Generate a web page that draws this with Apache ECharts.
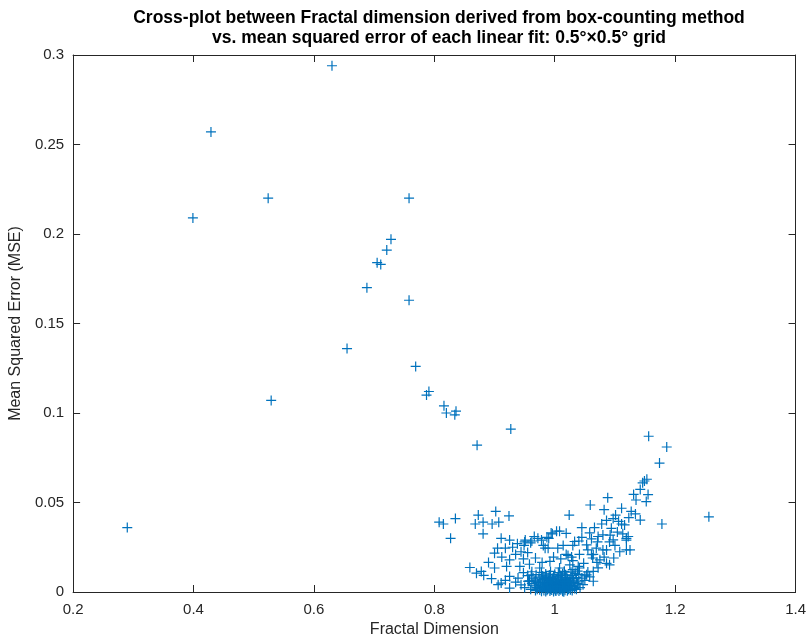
<!DOCTYPE html>
<html>
<head>
<meta charset="utf-8">
<script src="https://cdn.jsdelivr.net/npm/echarts@6/dist/echarts.min.js"></script>
<style>html,body{margin:0;padding:0;background:#fff}#c{width:809px;height:643px}</style>
</head>
<body>
<div id="c"></div>
<script>
const titleLines = ['Cross-plot between Fractal dimension derived from box-counting method', 'vs. mean squared error of each linear fit: 0.5°×0.5° grid'];
const xName = 'Fractal Dimension';
const yName = 'Mean Squared Error (MSE)';
const xTicks = [0.2, 0.4, 0.6, 0.8, 1.0, 1.2, 1.4];
const yTicks = [0, 0.05, 0.1, 0.15, 0.2, 0.25, 0.3];

const outlierPts = [[0.290,0.036],[0.399,0.209],[0.429,0.257],[0.524,0.220],[0.529,0.107],[0.630,0.294],[0.655,0.136],[0.688,0.170],[0.705,0.184],[0.711,0.183],[0.721,0.191],[0.728,0.197],[0.758,0.220],[0.758,0.163],[0.769,0.126],[0.787,0.110],[0.791,0.112],[0.816,0.104],[0.820,0.100],[0.836,0.101],[0.834,0.099],[0.871,0.082],[0.927,0.091],[1.156,0.087],[1.186,0.081],[1.174,0.072],[1.178,0.038],[1.256,0.042]];

const midPts = [[0.808,0.039],[0.815,0.038],[0.835,0.041],[0.827,0.030],[0.873,0.043],[0.868,0.038],[0.881,0.039],[0.902,0.045],[0.896,0.038],[0.907,0.039],[0.924,0.0425],[0.881,0.0325],[0.911,0.030],[0.925,0.029],[0.951,0.029],[0.972,0.030],[0.996,0.0325],[1.003,0.034],[0.900,0.0217],[0.918,0.0245],[0.949,0.026],[0.984,0.0245],[1.024,0.043],[1.045,0.036],[1.059,0.0486],[1.088,0.0527],[1.082,0.046],[1.111,0.0468],[1.101,0.043],[1.097,0.041],[1.111,0.038],[1.116,0.0375],[1.127,0.045],[1.131,0.0545],[1.135,0.0514],[1.142,0.0573],[1.149,0.062],[1.155,0.0544],[1.152,0.0505],[1.134,0.0436],[1.142,0.0402],[1.119,0.030],[1.119,0.0235],[1.146,0.061],[1.153,0.063],[1.019,0.0328],[1.008,0.034]];

const lowPts = [[0.859,0.0137],[0.878,0.0115],[0.882,0.0093],[0.900,0.0134],[0.920,0.0143],[0.942,0.0143],[0.925,0.0087],[0.939,0.0078],[0.961,0.0096],[0.975,0.0134],[0.992,0.0171],[1.008,0.0134],[1.025,0.0152],[1.041,0.0134],[1.053,0.0096],[1.039,0.0143],[1.064,0.0115],[1.091,0.0152],[1.064,0.021],[1.080,0.0235],[1.091,0.028],[1.072,0.031],[1.094,0.0356],[1.122,0.031],[1.125,0.0235],[1.086,0.0235],[1.061,0.0208],[1.075,0.018],[1.086,0.016],[1.063,0.019],[1.041,0.021],[1.019,0.021],[1.014,0.026],[1.030,0.026],[1.033,0.0282],[1.053,0.0263],[1.071,0.028],[1.080,0.0319],[1.097,0.0291],[1.100,0.026],[1.119,0.029],[1.069,0.0245],[1.061,0.0297],[1.022,0.0204],[1.005,0.0245],[0.989,0.0245],[0.981,0.026],[0.994,0.033],[0.950,0.028],[0.938,0.027],[0.960,0.0275],[0.966,0.031],[0.978,0.029],[0.990,0.030],[0.930,0.025],[0.905,0.0245],[0.912,0.0195],[0.925,0.018],[0.935,0.021],[0.955,0.022],[0.968,0.019],[0.979,0.0165],[0.998,0.0195],[1.010,0.0185],[1.030,0.0175],[1.048,0.016],[1.055,0.0235],[1.045,0.0305],[1.058,0.033],[1.066,0.036],[1.078,0.038],[1.086,0.040],[1.104,0.0335],[1.113,0.0325],[1.108,0.0225],[1.098,0.019],[0.890,0.0165],[0.870,0.0105],[0.895,0.0075],[0.958,0.0155],[0.948,0.0185],[1.016,0.0115],[1.030,0.0125],[1.072,0.0135],[1.082,0.0195],[0.962,0.0285],[0.987,0.0305],[1.040,0.0285],[1.092,0.0318],[1.106,0.0395],[1.123,0.0415],[1.028,0.0195],[1.070,0.0165],[0.944,0.0225]];

const corePts = [[0.975,0.0012],[0.982,0.0008],[0.988,0.0015],[0.992,0.0005],[0.995,0.0011],[0.998,0.0003],[1.001,0.0009],[1.004,0.0014],[1.007,0.0006],[1.010,0.0012],[1.013,0.0004],[1.017,0.0010],[1.021,0.0007],[1.026,0.0013],[0.985,0.0003],[0.999,0.0017],[1.011,0.0019],
[0.970,0.0024],[0.979,0.0021],[0.985,0.0028],[0.990,0.0019],[0.994,0.0026],[0.997,0.0022],[1.000,0.0029],[1.003,0.0020],[1.006,0.0027],[1.009,0.0023],[1.012,0.0030],[1.016,0.0021],[1.020,0.0026],[1.024,0.0022],[1.030,0.0028],
[0.966,0.0035],[0.976,0.0038],[0.983,0.0033],[0.989,0.0040],[0.993,0.0034],[0.996,0.0039],[0.999,0.0036],[1.002,0.0042],[1.005,0.0033],[1.008,0.0038],[1.011,0.0035],[1.015,0.0041],[1.019,0.0034],[1.023,0.0039],[1.028,0.0036],[1.034,0.0032],
[0.962,0.0048],[0.972,0.0052],[0.980,0.0046],[0.986,0.0053],[0.991,0.0049],[0.995,0.0055],[0.999,0.0047],[1.003,0.0051],[1.007,0.0045],[1.011,0.0054],[1.015,0.0049],[1.020,0.0052],[1.026,0.0046],[1.032,0.0053],[1.038,0.0048],
[0.958,0.0062],[0.968,0.0066],[0.977,0.0060],[0.984,0.0068],[0.990,0.0063],[0.996,0.0070],[1.001,0.0061],[1.006,0.0067],[1.012,0.0064],[1.018,0.0069],[1.024,0.0062],[1.031,0.0066],[1.040,0.0060],[0.956,0.0060],
[0.964,0.0078],[0.974,0.0083],[0.982,0.0076],[0.989,0.0081],[0.997,0.0077],[1.004,0.0084],[1.011,0.0079],[1.019,0.0082],[1.027,0.0076],[1.036,0.0080],[1.045,0.0078],
[0.955,0.0092],[0.969,0.0097],[0.980,0.0090],[0.991,0.0095],[1.000,0.0099],[1.009,0.0091],[1.018,0.0096],[1.029,0.0093],[1.040,0.0098],[1.050,0.0090],
[0.948,0.0108],[0.962,0.0113],[0.978,0.0110],[0.993,0.0115],[1.006,0.0109],[1.016,0.0114],[1.027,0.0111],[1.038,0.0117],[1.055,0.0112],
[0.911,0.005],[0.906,0.0041],[0.925,0.0022],[0.956,0.006],[0.967,0.006],[0.944,0.004],[0.935,0.0055],[0.950,0.0025],[0.960,0.0015],[0.918,0.0065],
[1.047,0.0041],[1.064,0.006],[1.030,0.0078],[1.019,0.0041],[1.042,0.0025],[1.050,0.0065],[1.058,0.0085],[1.036,0.0015],
[0.978,0.0004],[0.987,0.0010],[0.993,0.0016],[1.002,0.0006],[1.008,0.0016],[1.015,0.0002],[1.023,0.0016],[0.981,0.0031],[0.991,0.0029],[1.004,0.0031],[1.014,0.0027],[1.027,0.0031],
[0.973,0.0044],[0.988,0.0045],[1.001,0.0055],[1.013,0.0046],[1.023,0.0057],[0.979,0.0069],[0.993,0.0058],[1.009,0.0072],[1.021,0.0074],[0.986,0.0088],[0.998,0.0088],[1.013,0.0102],
[0.971,0.0016],[1.029,0.0009],[0.968,0.0008],[1.033,0.0019],[0.996,0.0046],[1.017,0.0058],[0.985,0.0101],[1.034,0.0104]];

const allPts = outlierPts.concat(midPts, lowPts, corePts);

const axisColor = '#262626';
const fontFam = '"Liberation Sans", Arial, Helvetica, sans-serif';
const fmt = v => String(+v.toFixed(3));

const chart = echarts.init(document.getElementById('c'), null, {renderer: 'canvas'});
const baseX = {
  type: 'value', min: xTicks[0], max: xTicks[xTicks.length - 1], interval: 0.2,
  axisLine: {show: true, onZero: false, lineStyle: {color: axisColor, width: 1}},
  axisTick: {show: true, inside: true, length: 7, lineStyle: {color: axisColor}},
  splitLine: {show: false}
};
const baseY = {
  type: 'value', min: yTicks[0], max: yTicks[yTicks.length - 1], interval: 0.05,
  axisLine: {show: true, onZero: false, lineStyle: {color: axisColor, width: 1}},
  axisTick: {show: true, inside: true, length: 7, lineStyle: {color: axisColor}},
  splitLine: {show: false}
};
chart.setOption({
  animation: false,
  backgroundColor: '#ffffff',
  title: {
    text: titleLines.join('\n'),
    left: 434, top: 3, textAlign: 'center',
    textStyle: {fontFamily: fontFam, fontSize: 17.5, fontWeight: 'bold', color: '#000', lineHeight: 20}
  },
  grid: {left: 73, right: 13, top: 55, bottom: 49, containLabel: false},
  xAxis: [
    Object.assign({}, baseX, {
      position: 'bottom',
      name: xName, nameLocation: 'middle', nameGap: 30,
      nameTextStyle: {fontFamily: fontFam, fontSize: 16, color: axisColor},
      axisLabel: {show: true, margin: 10, color: axisColor, fontFamily: fontFam, fontSize: 15, formatter: fmt}
    }),
    Object.assign({}, baseX, {position: 'top', axisLabel: {show: false}})
  ],
  yAxis: [
    Object.assign({}, baseY, {
      position: 'left',
      name: yName, nameLocation: 'middle', nameGap: 39, nameRotate: 90,
      nameTextStyle: {fontFamily: fontFam, fontSize: 16, color: axisColor},
      axisLabel: {show: true, margin: 9, color: axisColor, fontFamily: fontFam, fontSize: 15, formatter: fmt}
    }),
    Object.assign({}, baseY, {position: 'right', axisLabel: {show: false}})
  ],
  series: [{
    type: 'scatter',
    xAxisIndex: 0, yAxisIndex: 0,
    data: allPts,
    symbol: 'path://M5 0L5 10M0 5L10 5',
    symbolSize: 10,
    clip: false,
    silent: true,
    itemStyle: {color: 'transparent', borderColor: '#0072BD', borderWidth: 1.2, opacity: 1}
  }]
});
</script>
</body>
</html>
